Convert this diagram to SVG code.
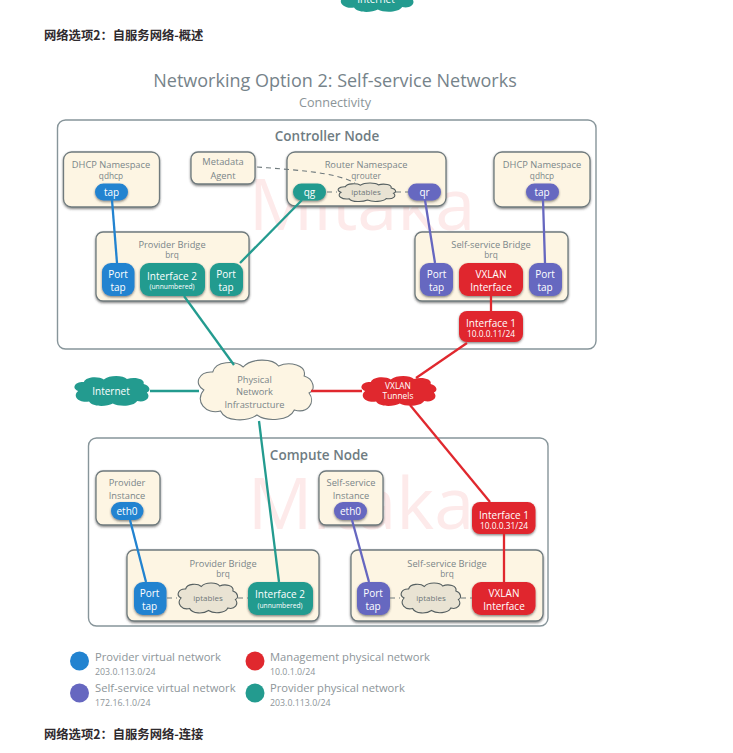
<svg xmlns="http://www.w3.org/2000/svg" width="733" height="753" viewBox="0 0 733 753">
<style>
text{font-family:"Open Sans","Noto Sans",sans-serif;text-anchor:middle;fill:#7a8589;font-size:9.3px}
.h{font-family:"Noto Sans CJK SC",sans-serif;font-weight:700;font-size:12.3px;fill:#2f2a2e;text-anchor:start}
.title{font-size:18px;fill:#76838a}
.sub{font-size:12.600px;fill:#8b9498}
.cap{font-size:13.500px;font-weight:600;fill:#6f7c82}
.s{font-size:8.300px}
.ip{font-size:8px;fill:#6f787a}
.w{fill:#fff;font-size:10px}
.ws{fill:#fff;font-size:8.400px}
.wu{fill:#fff;font-size:6.700px}
.mark{font-size:72px;fill:#fdeaea}
.leg{font-size:11.200px;text-anchor:start;fill:#8d9599}
.legs{font-size:8.800px;text-anchor:start;fill:#8d9599}
.box{fill:#fff;stroke:#87959a;stroke-width:1.4}
.cream{fill:#fdf5e3;stroke:#6f7a7d;stroke-width:1.3;filter:url(#sh)}
.bl{fill:#2283d0;filter:url(#sh)}
.pu{fill:#6667c0;filter:url(#sh)}
.te{fill:#239b8f;filter:url(#sh)}
.re{fill:#e0282e;filter:url(#sh)}
.ipc{fill:#e9e3d3;stroke:#555f60;stroke-width:1.1}
.phy{fill:#fdf5e3;stroke:#6f7a7d;stroke-width:1.1}
.ln{fill:none;stroke-width:2.3}
.dash{fill:none;stroke:#6f7a7d;stroke-width:1.1;stroke-dasharray:5 4}
</style>
<defs>
<filter id="sh" x="-15%" y="-15%" width="130%" height="135%"><feDropShadow dx="0" dy="1.300" stdDeviation="1.100" flood-color="#333" flood-opacity=".6"/></filter>
<filter id="soft" x="0" y="0" width="100%" height="100%" filterUnits="userSpaceOnUse"><feGaussianBlur stdDeviation=".35"/></filter>
<path id="cloud" vector-effect="non-scaling-stroke" d="M8 30C-3 24 3 11 17 12C20 1 40 0 48 7C56-2 78-2 84 6C95 1 113 5 110 16C120 19 122 30 115 33C122 42 114 54 100 50C95 61 72 62 62 55C52 62 30 62 25 51C10 55-2 41 8 30Z"/>
</defs>
<rect width="733" height="753" fill="#fff"/>
<text class="h" x="44" y="40">网络选项2：自服务网络-概述</text>
<g id="top-internet"><use href="#cloud" transform="translate(338 -18) scale(.642 .5)" fill="#239b8f"/><text class="w" x="376" y="3">Internet</text></g>
<text class="title" x="335" y="87">Networking Option 2: Self-service Networks</text>
<text class="sub" x="335" y="107">Connectivity</text>

<g id="controller-node"><rect class="box" x="57.500" y="120" width="538.500" height="229" rx="8"/><text class="mark" x="362" y="230">Mitaka</text><text class="cap" x="327" y="141">Controller Node</text></g>
<g id="compute-node"><rect class="box" x="88.500" y="438" width="459.500" height="188" rx="8"/><text class="mark" x="361" y="529">Mitaka</text><text class="cap" x="319" y="460">Compute Node</text></g>

<g id="dhcp-left"><rect class="cream" x="63.500" y="152" width="96" height="55" rx="8"/><text x="111" y="168">DHCP Namespace</text><text class="s" x="111" y="179">qdhcp</text><rect class="bl" x="95" y="183.500" width="33" height="17" rx="8.500"/><text class="w" x="111.500" y="195.500">tap</text></g>
<g id="metadata-agent"><rect class="cream" x="191" y="152" width="64" height="32" rx="7"/><text x="223" y="165">Metadata</text><text x="223" y="178.500">Agent</text></g>
<g id="router-namespace"><rect class="cream" x="287" y="152" width="159" height="54" rx="8"/><text x="366" y="168">Router Namespace</text><text class="s" x="366" y="179">qrouter</text>
<rect class="te" x="293" y="183.500" width="33" height="17" rx="8.500"/><text class="w" x="309.500" y="195.500">qg</text>
<use href="#cloud" class="ipc" transform="translate(337 183) scale(.492 .31)"/><text class="ip" x="366" y="195">iptables</text>
<rect class="pu" x="408" y="183.500" width="33" height="17" rx="8.500"/><text class="w" x="424.500" y="195.500">qr</text></g>
<g id="dhcp-right"><rect class="cream" x="494" y="152" width="96" height="55" rx="8"/><text x="542" y="168">DHCP Namespace</text><text class="s" x="542" y="179">qdhcp</text><rect class="pu" x="526" y="183.500" width="33" height="17" rx="8.500"/><text class="w" x="542" y="195.500">tap</text></g>

<g id="controller-provider-bridge"><rect class="cream" x="96" y="232" width="153" height="69" rx="7"/><text x="172" y="248">Provider Bridge</text><text class="s" x="172" y="258">brq</text>
<rect class="bl" x="102" y="263" width="32.500" height="33" rx="9"/><text class="w" x="118" y="277.500">Port</text><text class="w" x="118" y="290.500">tap</text>
<rect class="te" x="140" y="263" width="65" height="33" rx="9"/><text class="w" x="172" y="279.500">Interface 2</text><text class="wu" x="172" y="288.500">(unnumbered)</text>
<rect class="te" x="210" y="263" width="33" height="33" rx="9"/><text class="w" x="226" y="277.500">Port</text><text class="w" x="226" y="290.500">tap</text></g>
<g id="controller-selfservice-bridge"><rect class="cream" x="415" y="232" width="153" height="69" rx="7"/><text x="491" y="248">Self-service Bridge</text><text class="s" x="491" y="258">brq</text>
<rect class="pu" x="420" y="263" width="33" height="33" rx="9"/><text class="w" x="436.500" y="277.500">Port</text><text class="w" x="436.500" y="290.500">tap</text>
<rect class="re" x="459" y="263" width="64" height="33" rx="9"/><text class="w" x="491" y="277.500">VXLAN</text><text class="w" x="491" y="290.500">Interface</text>
<rect class="pu" x="529" y="263" width="33" height="33" rx="9"/><text class="w" x="545" y="277.500">Port</text><text class="w" x="545" y="290.500">tap</text></g>
<g id="controller-interface-1"><rect class="re" x="459" y="311" width="64" height="31" rx="8"/><text class="w" x="491" y="326.500">Interface 1</text><text class="ws" x="491" y="336.500">10.0.0.11/24</text></g>

<g id="internet"><use href="#cloud" transform="translate(73 376) scale(.642 .5)" fill="#239b8f"/><text class="w" x="111" y="395">Internet</text></g>
<g id="physical-network"><use href="#cloud" class="phy" transform="translate(196 360) scale(.983 1)"/><text x="254.500" y="383">Physical</text><text x="254.500" y="395">Network</text><text x="254.500" y="408">Infrastructure</text></g>
<g id="vxlan-tunnels"><use href="#cloud" transform="translate(360 376) scale(.642 .5)" fill="#e0282e"/><text class="ws" x="398" y="389">VXLAN</text><text class="ws" x="398" y="399">Tunnels</text></g>

<g id="provider-instance"><rect class="cream" x="96" y="471" width="64" height="54" rx="7"/><text x="127" y="486">Provider</text><text x="127" y="499">Instance</text><rect class="bl" x="111" y="502" width="32.500" height="18" rx="9"/><text class="w" x="127" y="514.500">eth0</text></g>
<g id="selfservice-instance"><rect class="cream" x="319" y="471" width="64" height="54" rx="7"/><text x="351" y="486">Self-service</text><text x="351" y="499">Instance</text><rect class="pu" x="334" y="502" width="33" height="18" rx="9"/><text class="w" x="350.500" y="514.500">eth0</text></g>
<g id="compute-provider-bridge"><rect class="cream" x="127" y="550" width="192" height="71" rx="7"/><text x="223" y="566.500">Provider Bridge</text><text class="s" x="223" y="576.500">brq</text>
<rect class="bl" x="134" y="582" width="32.500" height="33" rx="9"/><text class="w" x="149.500" y="596.500">Port</text><text class="w" x="149.500" y="609.500">tap</text>
<use href="#cloud" class="ipc" transform="translate(177 583) scale(.508 .5)"/><text class="ip" x="208" y="601">iptables</text>
<rect class="te" x="248" y="582" width="65" height="33" rx="9"/><text class="w" x="280" y="598">Interface 2</text><text class="wu" x="280" y="607.500">(unnumbered)</text></g>
<g id="compute-selfservice-bridge"><rect class="cream" x="351" y="550" width="192" height="71" rx="7"/><text x="447" y="566.500">Self-service Bridge</text><text class="s" x="447" y="576.500">brq</text>
<rect class="pu" x="357" y="582" width="33" height="33" rx="9"/><text class="w" x="373" y="596.500">Port</text><text class="w" x="373" y="609.500">tap</text>
<use href="#cloud" class="ipc" transform="translate(400 583) scale(.508 .5)"/><text class="ip" x="431" y="601">iptables</text>
<rect class="re" x="472" y="582" width="63.500" height="33" rx="9"/><text class="w" x="504" y="596.500">VXLAN</text><text class="w" x="504" y="609.500">Interface</text></g>
<g id="compute-interface-1"><rect class="re" x="472" y="502" width="63.500" height="32" rx="8"/><text class="w" x="504" y="519">Interface 1</text><text class="ws" x="504" y="528.500">10.0.0.31/24</text></g>

<g id="connectors">
<g class="ln" stroke="#2283d0"><path d="M112 200L117 263"/><path d="M130 520L146 582"/></g>
<g class="ln" stroke="#6667c0"><path d="M425 200L435 263"/><path d="M543 200L545 263"/><path d="M352 520L369 582"/></g>
<g class="ln" stroke="#239b8f"><path d="M302 200L240 263"/><path d="M184 296L234 365"/><path d="M150 391H199"/><path d="M259 421L279 582"/></g>
<g class="ln" stroke="#e0282e"><path d="M491 296V311"/><path d="M467 343L416 378"/><path d="M311 391H362"/><path d="M410 405L490 502"/><path d="M504 534V582"/></g>
<path class="dash" d="M257 167C295 170 335 172 355 183"/>
<path class="dash" d="M327 192H337M396 192H408M167 598H177M238 598H248M390 598H400M461 598H472"/>
</g>

<g id="legend">
<circle cx="79.500" cy="661" r="9.500" fill="#2283d0"/><text class="leg" x="95" y="661">Provider virtual network</text><text class="legs" x="95" y="674.500">203.0.113.0/24</text>
<circle cx="255" cy="661" r="9.500" fill="#e0282e"/><text class="leg" x="270" y="661">Management physical network</text><text class="legs" x="270" y="674.500">10.0.1.0/24</text>
<circle cx="79.500" cy="693" r="9.500" fill="#6667c0"/><text class="leg" x="95" y="692">Self-service virtual network</text><text class="legs" x="95" y="706">172.16.1.0/24</text>
<circle cx="255" cy="693" r="9.500" fill="#239b8f"/><text class="leg" x="270" y="692">Provider physical network</text><text class="legs" x="270" y="706">203.0.113.0/24</text>
</g>
<text class="h" x="44" y="739">网络选项2：自服务网络-连接</text>
</svg>
